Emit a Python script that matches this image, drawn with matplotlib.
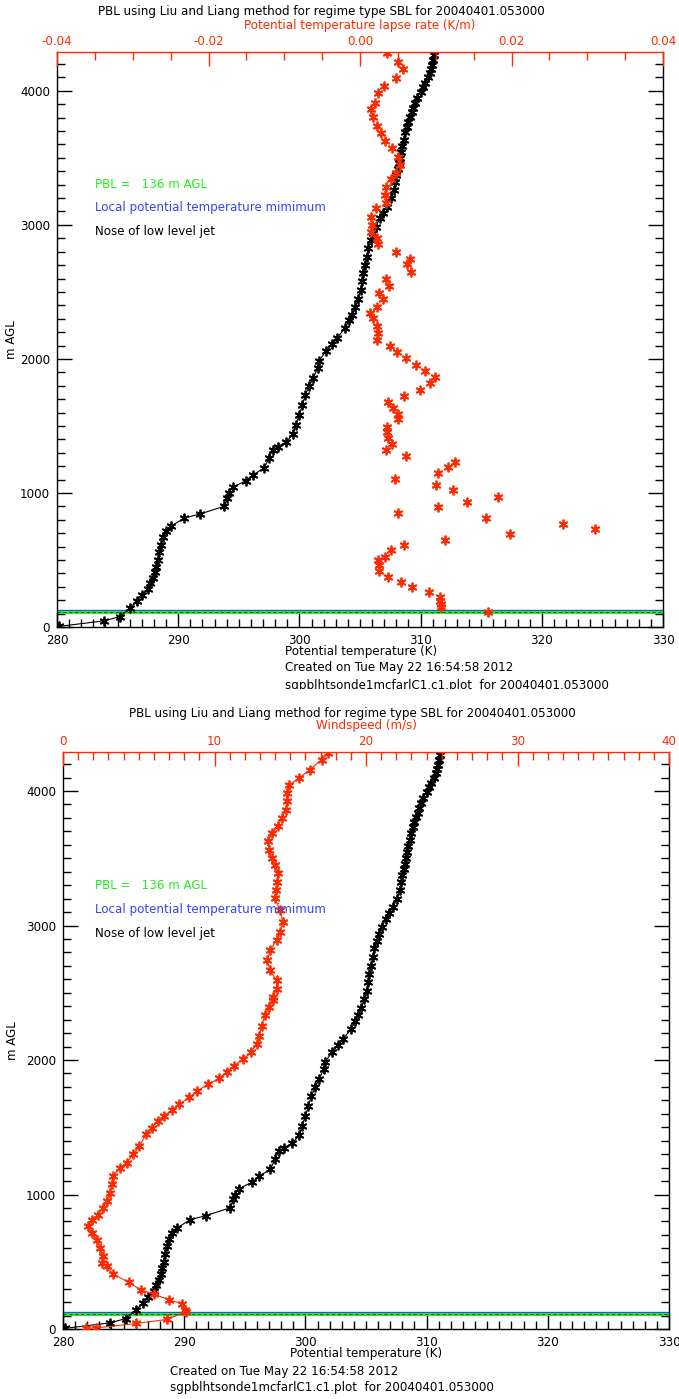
import matplotlib
matplotlib.use('Agg')
import matplotlib.pyplot as plt
from matplotlib.ticker import MultipleLocator, FormatStrFormatter
from matplotlib.patches import Rectangle

# potential temperature profile (K) vs height (m AGL)
theta_height = [5, 46, 78, 139, 195, 237, 285, 330, 366, 410, 451, 500, 560, 614, 670, 714, 751,
                813, 843, 901, 963, 1000, 1042, 1092, 1137, 1187, 1261, 1323, 1345, 1381, 1440,
                1510, 1584, 1659, 1734, 1796, 1858, 1933, 1983, 2057, 2110, 2157, 2231, 2291,
                2331, 2390, 2450, 2515, 2580, 2639, 2700, 2764, 2830, 2888, 2940, 2987, 3050,
                3090, 3137, 3200, 3261, 3320, 3373, 3420, 3460, 3500, 3547, 3590, 3634, 3690,
                3734, 3770, 3808, 3840, 3871, 3910, 3945, 3995, 4030, 4057, 4100, 4132, 4165,
                4194, 4230, 4269]
theta = [280.2, 283.9, 285.2, 286.0, 286.6, 287.0, 287.5, 287.7, 287.9, 288.1, 288.2, 288.3,
         288.4, 288.55, 288.75, 288.97, 289.4, 290.5, 291.8, 293.8, 294.05, 294.2, 294.5, 295.6,
         296.2, 297.1, 297.5, 297.8, 298.2, 298.9, 299.5, 299.7, 300.0, 300.25, 300.5, 300.8,
         301.15, 301.5, 301.6, 302.2, 302.7, 303.1, 303.8, 304.1, 304.35, 304.6, 304.85, 305.05,
         305.15, 305.25, 305.4, 305.55, 305.7, 305.9, 306.1, 306.3, 306.65, 306.9, 307.25,
         307.55, 307.8, 307.9, 308.0, 308.1, 308.2, 308.3, 308.35, 308.45, 308.6, 308.7, 308.85,
         309.0, 309.1, 309.25, 309.4, 309.55, 309.7, 310.0, 310.2, 310.4, 310.6, 310.75, 310.85,
         310.95, 311.0, 311.1]

# potential temperature lapse rate (K/m)
lapse_height = [4281, 4219, 4162, 4095, 4037, 3983, 3913, 3863, 3804, 3739, 3684, 3627, 3572,
                3510, 3448, 3390, 3341, 3286, 3224, 3167, 3124, 3062, 3000, 2950, 2901, 2858,
                2801, 2744, 2709, 2652, 2595, 2545, 2490, 2445, 2390, 2346, 2304, 2246, 2192,
                2142, 2097, 2055, 2005, 1955, 1910, 1863, 1818, 1769, 1724, 1679, 1632, 1590,
                1552, 1495, 1457, 1408, 1363, 1321, 1279, 1231, 1192, 1147, 1102, 1060, 1020,
                972, 935, 898, 853, 811, 771, 731, 692, 649, 614, 575, 525, 500, 463, 420, 376,
                338, 301, 259, 226, 196, 172, 147, 114]
lapse_rate = [0.0035, 0.005, 0.00566, 0.00473, 0.00315, 0.0024, 0.00192, 0.00148, 0.00175,
              0.00227, 0.00271, 0.00328, 0.00417, 0.005, 0.00526, 0.00473, 0.00412, 0.00337,
              0.00324, 0.00337, 0.00209, 0.00139, 0.00161, 0.00148, 0.00227, 0.00235, 0.00473,
              0.00659, 0.00615, 0.00677, 0.00341, 0.00386, 0.00254, 0.00307, 0.00218, 0.00126,
              0.00175, 0.00227, 0.00235, 0.00227, 0.00394, 0.00483, 0.00606, 0.00734, 0.00862,
              0.00989, 0.00919, 0.00796, 0.00584, 0.00373, 0.00439, 0.00496, 0.00496, 0.0036,
              0.0036, 0.00368, 0.00417, 0.00337, 0.00606, 0.0125, 0.01166, 0.01029, 0.00465,
              0.01003, 0.01223, 0.01818, 0.01412, 0.01025, 0.005, 0.01669, 0.02682, 0.031,
              0.01977, 0.01117, 0.00575, 0.00412, 0.00328, 0.0024, 0.00249, 0.00249, 0.00373,
              0.0054, 0.00681, 0.00915, 0.01059, 0.01059, 0.01068, 0.01068, 0.0169]

# windspeed (m/s)
wind_height = [4, 8, 41, 71, 127, 139, 188, 217, 261, 290, 346, 407, 465, 493, 540, 602, 664,
               714, 763, 813, 851, 901, 950, 1013, 1075, 1137, 1199, 1237, 1299, 1360, 1448,
               1498, 1547, 1584, 1627, 1672, 1722, 1771, 1821, 1863, 1913, 1957, 2007, 2057,
               2119, 2181, 2256, 2331, 2393, 2443, 2468, 2530, 2592, 2666, 2741, 2816, 2890,
               2953, 3028, 3114, 3201, 3263, 3326, 3388, 3450, 3500, 3562, 3625, 3687, 3741,
               3799, 3860, 3923, 3985, 4047, 4097, 4159, 4234, 4285]
wind_speed = [1.5, 2.2, 4.84, 6.84, 8.13, 8.07, 7.84, 6.98, 5.99, 5.13, 4.36, 3.33, 2.88, 2.6,
              2.62, 2.44, 2.22, 1.89, 1.67, 1.89, 2.33, 2.66, 2.88, 3.1, 3.21, 3.32, 3.76, 4.2,
              4.64, 5.04, 5.48, 5.85, 6.29, 6.67, 7.17, 7.68, 8.34, 8.86, 9.59, 10.32, 10.8,
              11.29, 11.86, 12.39, 12.79, 12.96, 13.11, 13.33, 13.62, 13.85, 13.88, 14.1, 14.1,
              13.66, 13.49, 13.66, 14.1, 14.32, 14.5, 14.32, 14.0, 14.06, 14.15, 14.21, 14.0,
              13.78, 13.62, 13.55, 13.78, 14.21, 14.43, 14.72, 14.77, 14.77, 14.94, 15.6, 16.3,
              17.08, 17.5]

local_min_height = 130
pbl_height = 112
jet_nose_height = 112

title = 'PBL using Liu and Liang method for regime type SBL for 20040401.053000'
created = 'Created on Tue May 22 16:54:58 2012'
source = 'sgpblhtsonde1mcfarlC1.c1.plot  for 20040401.053000'

red = '#ff2a00'
green = '#22ee22'
blue = '#3344ff'
fs = 8.6

plt.rcParams['font.family'] = 'DejaVu Sans'
plt.rcParams['font.size'] = fs

W, H = 679, 1399
fig = plt.figure(figsize=(W / 100, H / 100), dpi=100)


def ftext(x, y, s, **kw):
    fig.text(x / W, 1 - y / H, s, va='center', fontsize=fs, **kw)


def star(ax, x, y, color, line):
    ax.plot(x, y, color=color, lw=0.8 if line else 0,
            marker=(6, 2, 0), ms=7, mew=1.3, mec=color, zorder=3)


def setup(ax, top, top_range, top_major, top_minor, top_label, left_px, width_px):
    ax.set_xlim(280, 330)
    ax.set_ylim(0, 4290)
    ax.xaxis.set_major_locator(MultipleLocator(10))
    ax.xaxis.set_minor_locator(MultipleLocator(1))
    ax.yaxis.set_major_locator(MultipleLocator(1000))
    ax.yaxis.set_minor_locator(MultipleLocator(100))
    ax.tick_params(which='both', direction='in', left=True, right=True, top=False, bottom=True,
                   width=1.0, labelsize=fs)
    ax.tick_params(which='major', length=11, pad=5)
    ax.tick_params(which='minor', length=5.5)
    ax.spines['top'].set_visible(False)
    for s in ['left', 'right', 'bottom']:
        ax.spines[s].set_linewidth(1.0)
    ax.set_ylabel('m AGL', fontsize=fs, va='center')
    ax.yaxis.set_label_coords((12 - left_px) / width_px, 0.5)

    top.set_xlim(*top_range)
    top.xaxis.set_major_locator(MultipleLocator(top_major))
    top.xaxis.set_minor_locator(MultipleLocator(top_minor))
    top.tick_params(axis='x', which='both', direction='in', colors=red, width=1.0, labelsize=fs)
    top.tick_params(axis='x', which='major', length=10, pad=3)
    top.tick_params(axis='x', which='minor', length=6)
    top.tick_params(axis='y', left=False, right=False, labelleft=False, labelright=False)
    for s in ['left', 'right', 'bottom']:
        top.spines[s].set_visible(False)
    top.spines['top'].set_color(red)
    top.spines['top'].set_linewidth(1.0)
    top.set_xlabel(top_label, color=red, fontsize=fs, labelpad=4)

    ax.axhline(local_min_height, color=blue, lw=1.0, zorder=2)
    ax.axhline(pbl_height, color=green, lw=2.2, zorder=2)
    ax.axhline(jet_nose_height, color='#333333', lw=0.6, ls=(0, (4, 3)), zorder=2)


# ---- upper panel: lapse rate ----
ax1 = fig.add_axes([57 / W, 1 - 627 / H, (663 - 57) / W, 575 / H])
ax1t = ax1.twiny()
setup(ax1, ax1t, (-0.04, 0.04), 0.02, 0.005, 'Potential temperature lapse rate (K/m)',
      57, 663 - 57)
ax1t.xaxis.set_major_formatter(FormatStrFormatter('%.2f'))
star(ax1, theta, theta_height, 'black', True)
star(ax1t, lapse_rate, lapse_height, red, False)

ftext(321, 11, title, ha='center')
ftext(285, 651, 'Potential temperature (K)', ha='left')
ftext(285, 668, created, ha='left')
ftext(285, 686, source, ha='left')
ftext(95, 184, 'PBL =   136 m AGL', color=green, ha='left')
ftext(95, 208, 'Local potential temperature mimimum', color=blue, ha='left')
ftext(95, 231, 'Nose of low level jet', color='black', ha='left')

# ---- lower panel: windspeed ----
ax2 = fig.add_axes([63 / W, 1 - 1329 / H, (669 - 63) / W, 577 / H])
ax2t = ax2.twiny()
setup(ax2, ax2t, (0, 40), 10, 1, 'Windspeed (m/s)', 63, 669 - 63)
star(ax2, theta, theta_height, 'black', True)
star(ax2t, wind_speed, wind_height, red, True)

ftext(352, 714, title, ha='center')
ftext(366, 1353, 'Potential temperature (K)', ha='center')
ftext(170, 1371, created, ha='left')
ftext(170, 1388, source, ha='left')
ftext(95, 886, 'PBL =   136 m AGL', color=green, ha='left')
ftext(95, 910, 'Local potential temperature mimimum', color=blue, ha='left')
ftext(95, 933, 'Nose of low level jet', color='black', ha='left')

# the first panel's last line is cut off where the second image begins
fig.patches.append(Rectangle((0, 1 - 699 / H), 1, 10 / H, transform=fig.transFigure,
                             facecolor='white', edgecolor='none', zorder=10))

fig.savefig('out.png', dpi=100)
